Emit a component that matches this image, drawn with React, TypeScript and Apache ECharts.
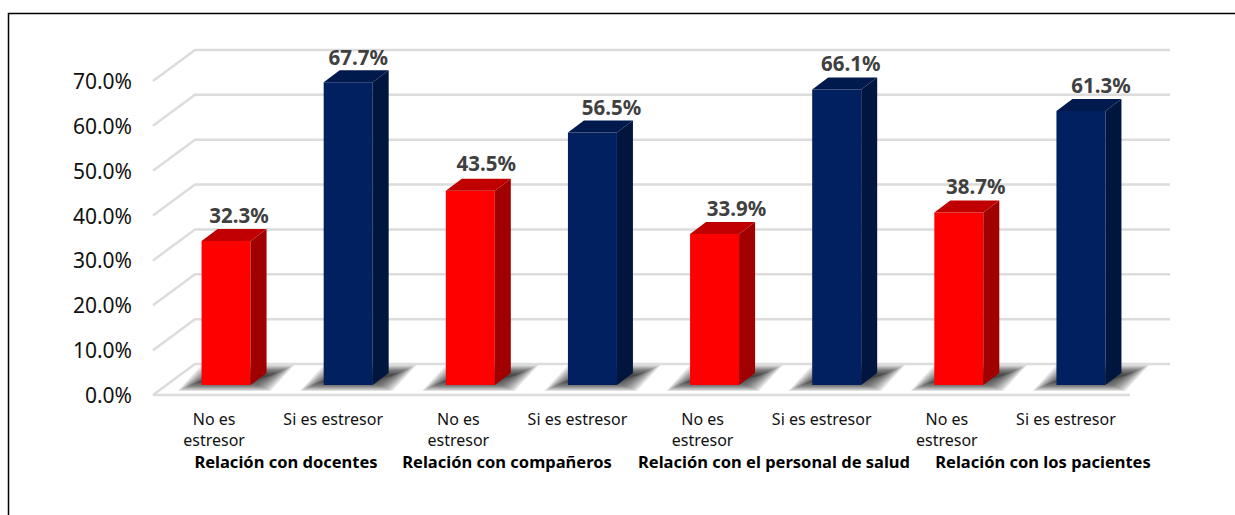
import React, { useEffect, useRef } from "react";
import * as echarts from "echarts";

const categories = ["No es\nestresor", "Si es estresor", "No es\nestresor", "Si es estresor", "No es\nestresor", "Si es estresor", "No es\nestresor", "Si es estresor"];
const values = [32.3, 67.7, 43.5, 56.5, 33.9, 66.1, 38.7, 61.3];
const ticks = [0, 10, 20, 30, 40, 50, 60, 70];
const groups = ["Relación con docentes", "Relación con compañeros", "Relación con el personal de salud", "Relación con los pacientes"];
const groupCenters = [286, 507, 774, 1043];
const labelShiftX = [0, -3, 3, 6, 9, 1, 4, 7];
const labelShiftY = [0, 1, -2, 0, 0, 0, 0, 0];

const FONT = "'Noto Sans', sans-serif";
const BACK_X = 42, BACK_Y = 31;
const BAR_W = 49, BAR_DX = 16, BAR_DY = 12;
const PLANE_X = 12, PLANE_Y = 9;
const SHADOW_LAYERS = 14;

const palette = (i: number) =>
  i % 2 === 0
    ? { front: "#FF0000", side: "#A00000", top: "#C00000" }
    : { front: "#002060", side: "#00163F", top: "#001A4E" };

export default function App() {
  const ref = useRef<HTMLDivElement>(null);
  useEffect(() => {
    const chart = echarts.init(ref.current!, undefined, { renderer: "svg" });
    chart.setOption({
      animation: false,
      backgroundColor: "#fff",
      grid: { left: 153, right: 105, top: 81, height: 314, containLabel: false },
      xAxis: {
        type: "category",
        data: categories,
        axisLine: { show: false },
        axisTick: { show: false },
        axisLabel: {
          interval: 0,
          color: "#111",
          fontFamily: FONT,
          fontSize: 16,
          lineHeight: 21,
          margin: 13,
          formatter: (v: string) => (v.includes("\n") ? v : `{s|${v}}`),
          rich: { s: { color: "#111", fontFamily: FONT, fontSize: 16, lineHeight: 21, padding: [0, 6, 0, 0] } },
        },
      },
      yAxis: {
        type: "value",
        min: 0,
        max: 70,
        interval: 10,
        splitLine: { show: false },
        axisLine: { show: false },
        axisTick: { show: false },
        axisLabel: { color: "#111", fontFamily: FONT, fontSize: 21, margin: 21, formatter: (v: number) => v.toFixed(1) + "%" },
      },
      graphic: [
        { type: "polyline", silent: true, shape: { points: [[8.5, 515], [8.5, 13.5], [1235, 13.5]] }, style: { stroke: "#000", lineWidth: 1.5, fill: "none" } },
        ...groups.map((g, i) => ({
          type: "text",
          x: groupCenters[i],
          y: 461,
          style: { text: g, fill: "#000", font: `bold 16.5px ${FONT}`, textAlign: "center", textVerticalAlign: "middle" },
        })),
      ],
      series: [
        {
          type: "custom",
          z: 1,
          silent: true,
          clip: false,
          data: ticks.map((t) => [0, t]),
          renderItem: (params: any, api: any) => {
            const v = api.value(1);
            const cs = params.coordSys;
            const y = api.coord([0, v])[1];
            const l = cs.x, r = cs.x + cs.width;
            const style = { stroke: "#DCDCDC", lineWidth: 2.5, fill: "none" };
            const children: any[] = [
              { type: "polyline", shape: { points: [[l, y], [l + BACK_X, y - BACK_Y], [r + BACK_X - 2, y - BACK_Y]] }, style },
            ];
            if (v === 0) children.push({ type: "line", shape: { x1: l, y1: y, x2: r, y2: y }, style });
            return { type: "group", children };
          },
        },
        {
          type: "custom",
          z: 2,
          silent: true,
          clip: false,
          data: values.map((v, i) => [i, v]),
          renderItem: (params: any, api: any) => {
            const [cx] = api.coord([api.value(0), 0]);
            const y0 = api.coord([0, 0])[1];
            const x = cx + PLANE_X - BAR_W / 2;
            const children: any[] = [];
            for (let k = 0; k < SHADOW_LAYERS; k++) {
              const e = 4 - k * 0.8;
              const ex = e * 2.2;
              children.push({
                type: "polygon",
                shape: {
                  points: [
                    [x - 15 - ex, y0 - 8 + e],
                    [x + 60 + ex, y0 - 8 + e],
                    [x + 84 + ex, y0 - 26 - e],
                    [x + 9 - ex, y0 - 26 - e],
                  ],
                },
                style: { fill: "rgba(20,20,20,0.1)" },
              });
            }
            return { type: "group", children };
          },
        },
        {
          type: "custom",
          z: 3,
          silent: true,
          clip: false,
          data: values.map((v, i) => [i, v]),
          renderItem: (params: any, api: any) => {
            const i = api.value(0);
            const v = api.value(1);
            const [cx, yTop] = api.coord([i, v]);
            const y0 = api.coord([i, 0])[1];
            const x = cx + PLANE_X - BAR_W / 2;
            const t = yTop - PLANE_Y;
            const b = y0 - 10;
            const c = palette(i);
            return {
              type: "group",
              children: [
                { type: "rect", shape: { x, y: t, width: BAR_W, height: b - t }, style: { fill: c.front } },
                { type: "polygon", shape: { points: [[x + BAR_W, t], [x + BAR_W + BAR_DX, t - BAR_DY], [x + BAR_W + BAR_DX, b - BAR_DY], [x + BAR_W, b]] }, style: { fill: c.side } },
                { type: "polygon", shape: { points: [[x, t], [x + BAR_DX, t - BAR_DY], [x + BAR_W + BAR_DX, t - BAR_DY], [x + BAR_W, t]] }, style: { fill: c.top } },
                {
                  type: "text",
                  x: x + BAR_W / 2 + 13 + labelShiftX[i],
                  y: t - BAR_DY - 14 + labelShiftY[i],
                  style: { text: v.toFixed(1) + "%", fill: "#404040", font: `bold 20.5px ${FONT}`, textAlign: "center", textVerticalAlign: "middle" },
                },
              ],
            };
          },
        },
      ],
    });
    return () => chart.dispose();
  }, []);
  return <div ref={ref} style={{ position: "fixed", left: 0, top: 0, width: 1235, height: 515 }} />;
}
